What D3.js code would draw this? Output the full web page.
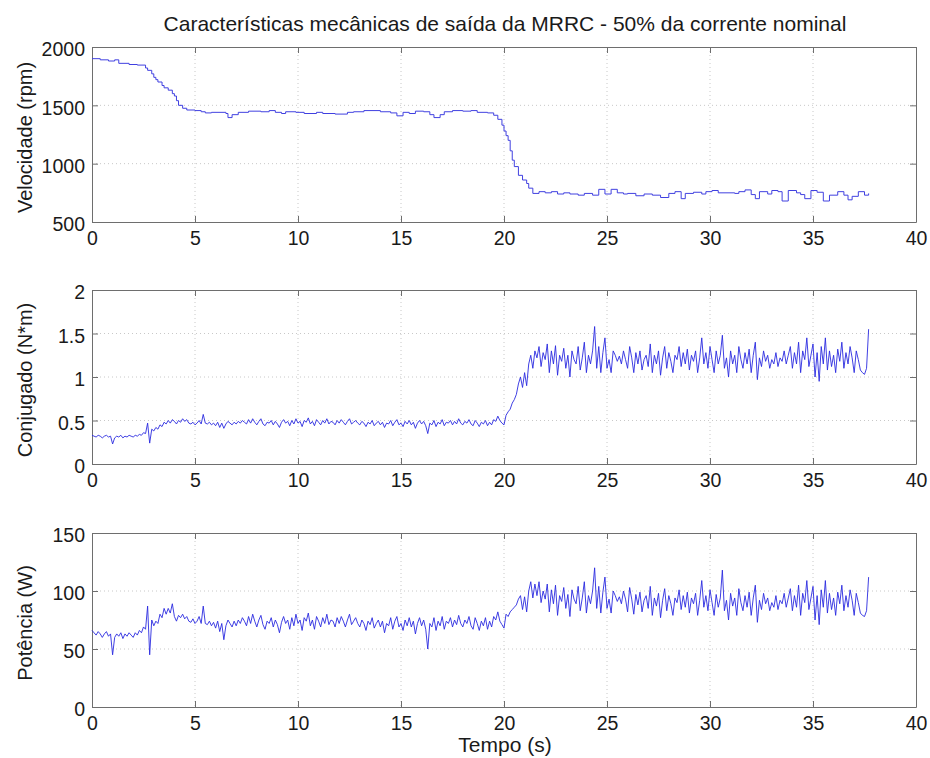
<!DOCTYPE html>
<html><head><meta charset="utf-8">
<script src="https://cdn.jsdelivr.net/npm/d3@7"></script>
<style>
body{margin:0;background:#fff;}
text{font-family:"Liberation Sans",Arial,Helvetica,sans-serif;fill:#1a1a1a;}
</style></head>
<body><svg id="c" width="930" height="758"></svg>
<script>
const title = "Características mecânicas de saída da MRRC - 50% da corrente nominal";
const xLabel = "Tempo (s)";
const yLabels = ["Velocidade (rpm)", "Conjugado (N*m)", "Potência (W)"];
const xTicks = [0,5,10,15,20,25,30,35,40];
const yTicksSpeed = [500,1000,1500,2000];
const yTicksTorque = [0,0.5,1,1.5,2];
const yTicksPower = [0,50,100,150];
const sampleStep = 0.1;

// speed: step changes (time s, rpm)
const speedTime = [0,0.4,0.8,1.1,1.3,1.8,2.2,2.6,2.7,2.9,3.0,3.1,3.2,3.4,3.5,3.7,3.9,4.0,4.1,4.2,4.4,4.6,5.0,5.3,5.5,5.8,6.5,6.6,6.8,7.1,7.6,8.2,8.6,8.9,9.2,9.4,9.9,10.3,10.9,11.2,11.8,12.4,12.7,13.2,14.0,14.5,14.8,15.1,15.4,15.7,16.1,16.4,16.6,16.9,17.1,17.5,18.0,18.4,18.7,19.2,19.5,19.7,19.9,20.0,20.1,20.2,20.3,20.4,20.5,20.7,20.9,21.1,21.2,21.4,21.7,22.0,22.3,22.6,22.9,23.2,23.6,23.9,24.3,24.6,24.9,25.2,25.5,25.8,26.0,26.4,26.8,27.2,27.6,28.0,28.3,28.6,28.8,29.2,29.6,29.8,30.1,30.4,31.2,31.4,31.7,32.0,32.2,32.4,32.8,33.0,33.3,33.5,33.8,34.2,34.4,34.6,34.9,35.2,35.5,35.8,36.2,36.5,36.7,36.9,37.2,37.5,37.7];
const speedRpm = [1900,1890,1880,1890,1860,1850,1845,1820,1800,1770,1740,1720,1700,1670,1650,1630,1600,1580,1540,1500,1475,1460,1455,1445,1435,1440,1430,1395,1420,1440,1450,1445,1455,1440,1430,1445,1440,1430,1440,1430,1425,1440,1445,1455,1445,1435,1410,1440,1430,1450,1445,1420,1395,1420,1445,1455,1450,1455,1440,1435,1415,1380,1330,1280,1240,1200,1110,1030,975,900,860,830,790,745,760,750,760,740,750,740,730,745,730,780,740,780,750,740,745,725,740,730,710,745,760,700,745,755,740,760,770,750,745,760,775,735,700,760,740,770,760,680,770,750,735,700,770,755,680,730,760,730,690,720,760,730,745];

// torque (N*m), sampled every 0.1 s from 0 to 37.7 s
const torque = [
0.33,0.32,0.31,0.33,0.32,0.30,0.32,0.33,0.31,0.32,
0.23,0.30,0.32,0.31,0.33,0.30,0.32,0.31,0.33,0.32,
0.31,0.33,0.32,0.34,0.33,0.36,0.35,0.47,0.24,0.40,
0.38,0.42,0.40,0.45,0.43,0.48,0.46,0.50,0.47,0.51,
0.49,0.46,0.50,0.48,0.52,0.49,0.51,0.47,0.46,0.48,
0.45,0.47,0.50,0.46,0.57,0.47,0.46,0.48,0.45,0.47,
0.44,0.48,0.42,0.47,0.41,0.46,0.49,0.47,0.45,0.48,
0.46,0.49,0.47,0.50,0.48,0.46,0.51,0.47,0.52,0.48,
0.45,0.49,0.52,0.46,0.44,0.48,0.47,0.50,0.45,0.49,
0.46,0.42,0.48,0.51,0.47,0.49,0.44,0.50,0.46,0.52,
0.47,0.49,0.43,0.50,0.48,0.53,0.46,0.49,0.44,0.51,
0.48,0.45,0.50,0.47,0.52,0.46,0.49,0.48,0.45,0.50,
0.47,0.51,0.48,0.45,0.49,0.52,0.46,0.48,0.50,0.47,
0.45,0.49,0.47,0.43,0.48,0.46,0.50,0.44,0.47,0.49,
0.45,0.48,0.42,0.47,0.46,0.50,0.44,0.48,0.51,0.45,
0.47,0.43,0.49,0.46,0.50,0.45,0.48,0.41,0.47,0.50,
0.46,0.49,0.44,0.35,0.47,0.45,0.50,0.43,0.48,0.46,
0.51,0.44,0.48,0.47,0.50,0.45,0.49,0.46,0.52,0.47,
0.45,0.49,0.47,0.51,0.46,0.44,0.50,0.47,0.43,0.48,
0.46,0.50,0.44,0.48,0.45,0.51,0.49,0.55,0.50,0.47,
0.45,0.56,0.60,0.63,0.70,0.74,0.80,0.92,1.00,0.88,
1.05,0.90,1.15,1.25,1.10,1.30,1.22,1.35,1.12,1.28,
1.20,1.38,1.05,1.30,1.15,1.36,1.02,1.25,1.18,1.33,
1.10,1.25,1.00,1.30,1.20,1.15,1.35,1.08,1.22,1.40,
1.05,1.25,1.15,1.30,1.58,1.10,1.35,1.05,1.28,1.45,
1.10,1.20,1.05,1.30,1.25,1.18,1.24,1.15,1.30,1.20,
1.10,1.35,1.22,1.05,1.28,1.15,1.30,1.08,1.20,1.25,
1.12,1.38,1.05,1.25,1.15,1.30,1.02,1.22,1.35,1.10,
1.28,1.18,1.05,1.25,1.20,1.35,1.12,1.28,1.15,1.32,
1.08,1.25,1.18,1.30,1.05,1.22,1.45,1.15,1.28,1.10,
1.35,1.20,1.05,1.30,1.15,1.25,1.48,1.10,1.22,1.00,
1.30,1.15,1.25,1.05,1.35,1.20,1.10,1.28,1.15,1.32,
1.05,1.25,1.40,0.97,1.22,1.12,1.30,1.18,1.25,1.10,
1.20,1.15,1.28,1.12,1.22,1.18,1.30,1.15,1.25,1.35,
1.10,1.28,1.15,1.40,1.05,1.30,1.20,1.45,1.12,1.25,
1.38,1.00,1.28,0.95,1.35,1.15,1.45,1.08,1.30,1.12,
1.25,1.05,1.32,1.18,1.40,1.10,1.28,1.15,1.35,1.22,
1.05,1.30,1.20,1.08,1.05,1.03,1.10,1.55];

// power (W), sampled every 0.1 s from 0 to 37.7 s
const power = [
66,64,62,65,63,60,63,65,61,63,
45,60,63,61,64,59,63,61,64,62,
60,64,62,66,64,69,67,87,45,75,
70,74,72,80,77,85,80,85,81,89,
78,74,79,77,80,76,78,74,73,76,
72,74,78,72,87,72,71,74,70,73,
68,74,65,72,58,70,75,72,69,74,
70,75,72,77,74,70,78,72,80,74,
69,75,79,71,67,74,72,77,69,75,
71,64,73,78,72,75,67,77,70,80,
72,75,66,77,74,81,70,75,67,78,
74,69,77,72,80,71,75,74,69,77,
72,78,74,69,75,80,71,74,77,72,
69,75,72,66,74,71,77,68,72,75,
69,74,64,72,70,77,67,74,78,69,
72,66,75,70,77,69,74,63,72,77,
70,75,67,50,72,69,77,66,74,70,
78,67,74,72,77,69,75,71,79,72,
69,75,72,78,70,67,77,72,66,74,
70,77,67,74,69,78,75,82,74,71,
68,80,78,82,84,86,88,93,96,84,
95,82,100,108,94,106,96,108,90,100,
93,106,82,101,89,105,79,96,91,103,
85,97,78,101,93,89,104,83,94,108,
81,96,89,100,120,85,104,81,99,112,
85,93,81,100,96,91,95,89,100,93,
82,103,93,80,97,88,99,82,92,96,
85,104,79,94,87,98,77,92,102,83,
96,89,79,94,90,101,84,96,86,99,
81,94,89,98,79,92,109,86,96,83,
101,90,79,97,86,94,118,83,92,75,
98,87,94,79,102,90,83,96,86,99,
79,94,105,73,92,84,98,89,94,83,
90,86,96,84,92,89,98,86,94,102,
83,96,86,105,79,98,90,109,84,94,
104,75,96,71,101,86,109,81,98,84,
94,79,99,89,105,83,96,86,101,92,
79,98,90,81,79,78,83,112];

const svg = d3.select("#c");
const left = 92, right = 916;
const panels = [
  {top:47, bottom:222, domain:[500,2000], ticks:yTicksSpeed, label:yLabels[0], step:true,
   data: speedTime.map((t,i)=>[t, speedRpm[i]])},
  {top:290, bottom:464, domain:[0,2], ticks:yTicksTorque, label:yLabels[1], step:false,
   data: torque.map((v,i)=>[i*sampleStep, v])},
  {top:533, bottom:707, domain:[0,150], ticks:yTicksPower, label:yLabels[2], step:false,
   data: power.map((v,i)=>[i*sampleStep, v])}
];
const x = d3.scaleLinear().domain([0,40]).range([left,right]);
const axisColor = "#6e6e6e";
const tickLen = 6;
const font = "'Liberation Sans',Arial,Helvetica,sans-serif";

svg.append("text").attr("x",505).attr("y",31).attr("text-anchor","middle")
  .style("font-size","21px").text(title);

panels.forEach(p=>{
  const y = d3.scaleLinear().domain(p.domain).range([p.bottom,p.top]);
  const g = svg.append("g");
  g.selectAll(".gx").data(xTicks.slice(1,-1)).join("line")
    .attr("x1",d=>x(d)).attr("x2",d=>x(d)).attr("y1",p.top).attr("y2",p.bottom)
    .attr("stroke","#c8c8c8").attr("stroke-dasharray","1,3").attr("stroke-width",1);
  g.selectAll(".gy").data(p.ticks.slice(1,-1)).join("line")
    .attr("y1",d=>y(d)).attr("y2",d=>y(d)).attr("x1",left).attr("x2",right)
    .attr("stroke","#c8c8c8").attr("stroke-dasharray","1,3").attr("stroke-width",1);
  const xb = g.append("g").attr("transform",`translate(0,${p.bottom})`)
    .call(d3.axisBottom(x).tickValues(xTicks).tickSizeInner(-tickLen).tickSizeOuter(0).tickPadding(9).tickFormat(d3.format("d")));
  const xt = g.append("g").attr("transform",`translate(0,${p.top})`)
    .call(d3.axisTop(x).tickValues(xTicks).tickSizeInner(-tickLen).tickSizeOuter(0).tickFormat(""));
  const yl = g.append("g").attr("transform",`translate(${left},0)`)
    .call(d3.axisLeft(y).tickValues(p.ticks).tickSizeInner(-tickLen).tickSizeOuter(0).tickPadding(7).tickFormat(d=>String(d)));
  const yr = g.append("g").attr("transform",`translate(${right},0)`)
    .call(d3.axisRight(y).tickValues(p.ticks).tickSizeInner(-tickLen).tickSizeOuter(0).tickFormat(""));
  [xb,xt,yl,yr].forEach(a=>{
    a.selectAll("path").attr("stroke",axisColor);
    a.selectAll("line").attr("stroke",axisColor);
    a.selectAll("text").style("font-size","19.5px").style("font-family",font).attr("fill","#1a1a1a");
  });
  xb.selectAll("text").attr("dy","0.71em");
  yl.selectAll("text").attr("dy","0.45em");
  const line = d3.line().x(d=>x(d[0])).y(d=>y(d[1]));
  if(p.step) line.curve(d3.curveStepAfter);
  g.append("path").datum(p.data).attr("d",line).attr("fill","none")
    .attr("stroke",p.step?"#4040e0":"#2a2ae0").attr("stroke-width",p.step?1:0.9).attr("stroke-linejoin","round");
  g.append("text").attr("transform",`translate(32,${(p.top+p.bottom)/2+3}) rotate(-90)`)
    .attr("text-anchor","middle").style("font-size","20px").text(p.label);
});

svg.append("text").attr("x",505).attr("y",752).attr("text-anchor","middle")
  .style("font-size","21px").text(xLabel);
</script></body></html>
